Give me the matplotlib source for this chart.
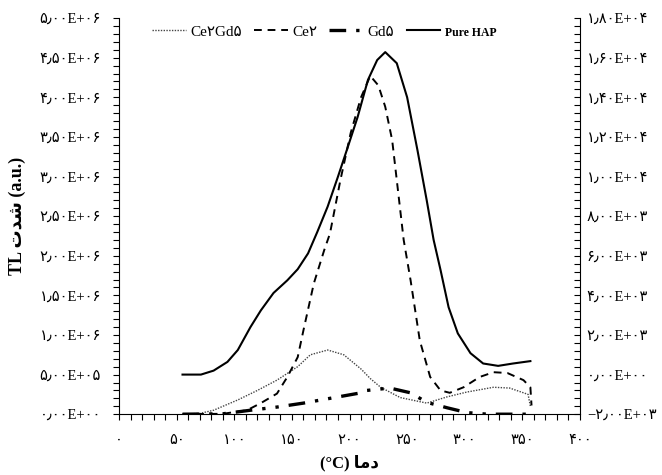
import numpy as np
import matplotlib
matplotlib.use('Agg')
from matplotlib import pyplot as plt
from matplotlib.ticker import MultipleLocator

# TL glow curves, temperature in C, intensity in units of 1e6 a.u.
hap_t = [55, 71, 82, 94, 103, 114, 123, 134, 146, 155, 164, 172, 181, 190, 198,
         207, 216, 224, 231, 241, 250, 259, 267, 273, 279, 286, 294, 305, 316,
         329, 342, 357]
hap_v = [0.50, 0.50, 0.55, 0.66, 0.81, 1.10, 1.31, 1.53, 1.69, 1.83, 2.03, 2.30,
         2.62, 3.00, 3.35, 3.75, 4.22, 4.47, 4.57, 4.43, 4.00, 3.33, 2.70, 2.20,
         1.82, 1.35, 1.02, 0.77, 0.64, 0.61, 0.64, 0.67]

ce2_t = [55, 90, 111, 123, 137, 146, 155, 160, 169, 178, 183, 192, 201, 210, 218,
         225, 231, 237, 242, 247, 253, 261, 270, 279, 287, 299, 313, 325, 337,
         351, 357, 358]
ce2_v = [0, 0.005, 0.05, 0.14, 0.26, 0.47, 0.72, 1.06, 1.65, 2.07, 2.28, 2.95,
         3.55, 4.00, 4.27, 4.15, 3.88, 3.46, 2.83, 2.20, 1.69, 0.93, 0.47, 0.30,
         0.27, 0.34, 0.47, 0.53, 0.52, 0.43, 0.34, 0.11]

ce2gd5_t = [55, 70, 82, 103, 120, 137, 155, 166, 181, 195, 210, 218, 227, 244,
            267, 285, 302, 325, 339, 355, 357]
ce2gd5_v = [0, 0.01, 0.05, 0.18, 0.30, 0.43, 0.60, 0.75, 0.81, 0.75, 0.57, 0.45,
            0.34, 0.21, 0.14, 0.22, 0.28, 0.34, 0.33, 0.25, 0.10]

gd5_t = [55, 90, 114, 137, 160, 183, 210, 215, 235, 253, 267, 285, 302, 320, 357]
gd5_v = [0, 0.005, 0.05, 0.09, 0.14, 0.20, 0.27, 0.30, 0.33, 0.27, 0.15, 0.08,
         0.02, 0, 0]

x_ticks = [0, 50, 100, 150, 200, 250, 300, 350, 400]
x_labels = ['۰', '۵۰', '۱۰۰', '۱۵۰', '۲۰۰', '۲۵۰', '۳۰۰', '۳۵۰', '۴۰۰']

left_ticks = [0, 0.5e6, 1.0e6, 1.5e6, 2.0e6, 2.5e6, 3.0e6, 3.5e6, 4.0e6, 4.5e6, 5.0e6]
left_labels = ['۰٫۰۰E+۰۰', '۵٫۰۰E+۰۵', '۱٫۰۰E+۰۶', '۱٫۵۰E+۰۶', '۲٫۰۰E+۰۶',
               '۲٫۵۰E+۰۶', '۳٫۰۰E+۰۶', '۳٫۵۰E+۰۶', '۴٫۰۰E+۰۶', '۴٫۵۰E+۰۶',
               '۵٫۰۰E+۰۶']

right_ticks = [-2000, 0, 2000, 4000, 6000, 8000, 10000, 12000, 14000, 16000, 18000]
right_labels = ['−۲٫۰۰E+۰۳', '۰٫۰۰E+۰۰', '۲٫۰۰E+۰۳', '۴٫۰۰E+۰۳', '۶٫۰۰E+۰۳',
                '۸٫۰۰E+۰۳', '۱٫۰۰E+۰۴', '۱٫۲۰E+۰۴', '۱٫۴۰E+۰۴', '۱٫۶۰E+۰۴',
                '۱٫۸۰E+۰۴']

plt.rcParams['font.family'] = ['Liberation Serif', 'DejaVu Sans']

fig = plt.figure(figsize=(6.62, 4.75), dpi=100)
ax = fig.add_axes([0.180, 0.128, 0.696, 0.834])

ax.plot(ce2gd5_t, np.array(ce2gd5_v) * 1e6, color='#444444', lw=1.0, ls=(0, (1, 1)), label='Ce۲Gd۵')
ax.plot(ce2_t, np.array(ce2_v) * 1e6, color='black', lw=1.4, ls=(0, (4, 3)), label='Ce۲')
ax.plot(gd5_t, np.array(gd5_v) * 1e6, color='black', lw=2.4, ls=(0, (5, 3, 1, 3, 1, 3)), label='Gd۵')
ax.plot(hap_t, np.array(hap_v) * 1e6, color='black', lw=1.5, label='Pure HAP')

ax.set_xlim(0, 400)
ax.set_ylim(0, 5e6)
ax.set_xticks(x_ticks)
ax.set_xticklabels(x_labels, fontsize=10.5)
ax.set_yticks(left_ticks)
ax.set_yticklabels(left_labels, fontsize=10.5)
ax.xaxis.set_minor_locator(MultipleLocator(10))
ax.yaxis.set_minor_locator(MultipleLocator(1e5))
ax.tick_params(which='both', direction='out', length=4, width=0.8, pad=9)
ax.tick_params(axis='x', which='both', pad=10)
ax.spines['top'].set_visible(False)
ax.spines['right'].set_visible(False)

ax2 = ax.twinx()
ax2.set_ylim(-2000, 18000)
ax2.set_yticks(right_ticks)
ax2.set_yticklabels(right_labels, fontsize=10.5)
ax2.yaxis.set_minor_locator(MultipleLocator(400))
ax2.tick_params(which='both', direction='in', length=4, width=0.8, pad=5)
ax2.spines['top'].set_visible(False)
ax2.spines['left'].set_visible(False)
ax2.spines['bottom'].set_visible(False)

ax.set_xlabel('(°C) \uFE8E\uFEE3\uFEA9', fontsize=12, weight='bold', labelpad=6)
ax.set_ylabel('TL \uFE95\uFEAA\uFEB7 (a.u.)', fontsize=13, weight='bold', labelpad=10)

leg = ax.legend(ncol=4, loc='center', bbox_to_anchor=(0.445, 0.965), frameon=False,
                fontsize=11, handlelength=2.2, columnspacing=0.8, handletextpad=0.3)
leg.get_texts()[3].set_fontweight('bold')
leg.get_texts()[3].set_fontsize(8.5)

fig.savefig('out.png', dpi=100)
